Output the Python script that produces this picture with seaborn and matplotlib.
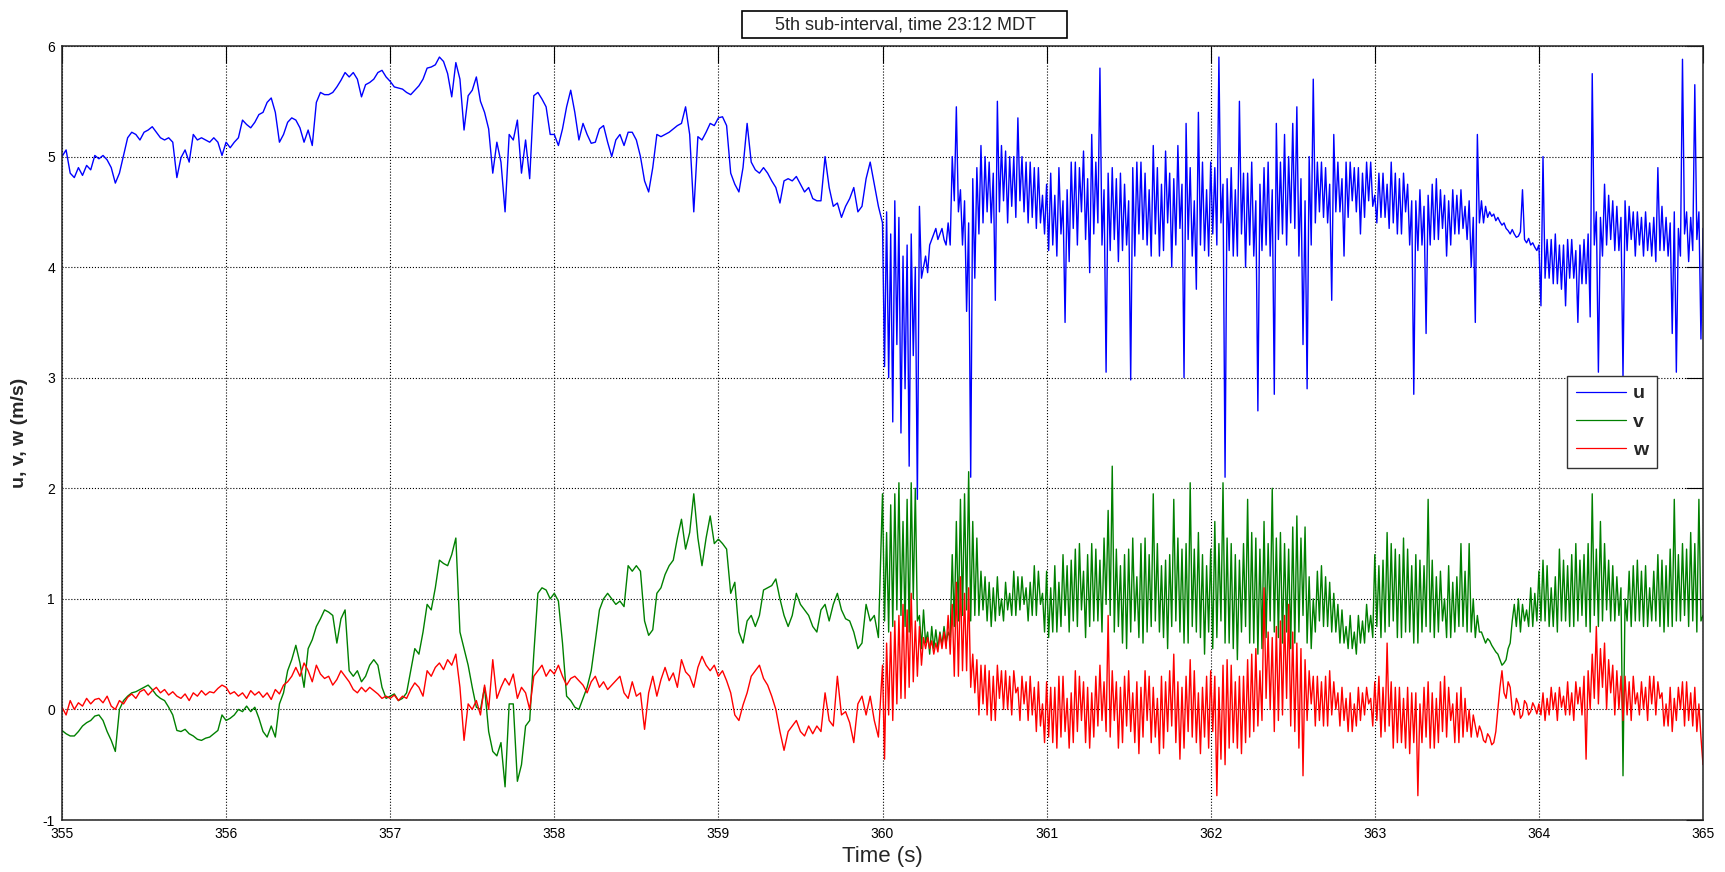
import numpy as np
import pandas as pd
import matplotlib
matplotlib.use("Agg")
import matplotlib.pyplot as plt
from matplotlib.patches import Rectangle
import seaborn as sns

# Sonic anemometer record, 5th sub-interval.
# 355-360 s stored every 25 ms; the gusty stretch 360-365 s every 12.5 ms.
STEADY_START, STEADY_STEP = 355.0, 0.025
GUSTY_START, GUSTY_STEP = 360.0, 0.0125

# streamwise component u (m/s)
u_steady = [
    5.00, 5.06, 4.85, 4.81, 4.90, 4.83, 4.92, 4.88, 5.01, 4.98,
    5.01, 4.97, 4.90, 4.76, 4.85, 5.01, 5.17, 5.22, 5.20, 5.15,
    5.22, 5.24, 5.27, 5.22, 5.17, 5.15, 5.17, 5.13, 4.81, 4.99,
    5.06, 4.95, 5.20, 5.15, 5.17, 5.15, 5.13, 5.17, 5.13, 5.01,
    5.13, 5.08, 5.13, 5.17, 5.33, 5.29, 5.26, 5.31, 5.38, 5.40,
    5.49, 5.53, 5.40, 5.13, 5.20, 5.31, 5.35, 5.33, 5.26, 5.13,
    5.24, 5.10, 5.49, 5.58, 5.56, 5.56, 5.58, 5.63, 5.69, 5.76,
    5.72, 5.76, 5.70, 5.54, 5.65, 5.67, 5.70, 5.76, 5.78, 5.72,
    5.68, 5.63, 5.62, 5.61, 5.58, 5.56, 5.60, 5.64, 5.70, 5.80,
    5.81, 5.83, 5.90, 5.86, 5.75, 5.54, 5.85, 5.70, 5.24, 5.55,
    5.60, 5.72, 5.50, 5.40, 5.25, 4.85, 5.13, 4.95, 4.50, 5.20,
    5.15, 5.33, 4.85, 5.15, 4.80, 5.55, 5.58, 5.52, 5.45, 5.20,
    5.20, 5.10, 5.25, 5.45, 5.60, 5.40, 5.15, 5.30, 5.20, 5.12,
    5.13, 5.25, 5.28, 5.13, 5.00, 5.15, 5.20, 5.10, 5.22, 5.22,
    5.15, 5.00, 4.78, 4.68, 4.90, 5.20, 5.18, 5.20, 5.22, 5.25,
    5.28, 5.30, 5.45, 5.20, 4.50, 5.18, 5.15, 5.22, 5.30, 5.28,
    5.35, 5.36, 5.28, 4.85, 4.75, 4.68, 4.90, 5.30, 4.95, 4.88,
    4.85, 4.90, 4.85, 4.78, 4.72, 4.58, 4.78, 4.80, 4.78, 4.82,
    4.75, 4.68, 4.72, 4.62, 4.60, 4.60, 5.00, 4.72, 4.55, 4.58,
    4.45, 4.55, 4.62, 4.72, 4.50, 4.55, 4.80, 4.95, 4.75, 4.55,
]
u_gusty = [
    4.40, 3.10, 4.50, 3.00, 4.30, 2.60, 4.60, 3.30, 4.45, 2.50,
    4.10, 2.90, 4.20, 2.20, 4.30, 3.20, 4.00, 1.90, 4.55, 3.90,
    4.00, 4.10, 3.95, 4.20, 4.25, 4.30, 4.35, 4.25, 4.30, 4.35,
    4.25, 4.20, 4.40, 4.20, 5.00, 4.60, 5.45, 4.50, 4.70, 4.20,
    4.60, 3.60, 4.40, 2.10, 4.80, 3.90, 4.90, 4.30, 5.10, 4.40,
    5.00, 4.50, 4.95, 4.40, 4.85, 3.70, 5.50, 4.50, 5.10, 4.60,
    5.05, 4.40, 5.00, 4.55, 5.00, 4.45, 5.35, 4.60, 5.00, 4.50,
    4.95, 4.40, 4.95, 4.45, 4.90, 4.35, 4.90, 4.40, 4.65, 4.30,
    4.75, 4.15, 4.85, 4.20, 4.65, 4.10, 4.90, 4.30, 4.60, 3.50,
    4.70, 4.05, 4.95, 4.35, 4.95, 4.20, 4.90, 4.50, 5.05, 4.25,
    4.80, 3.95, 5.20, 4.30, 4.95, 4.40, 5.80, 4.20, 4.70, 3.05,
    4.85, 4.15, 4.90, 4.25, 4.80, 4.05, 4.85, 4.15, 4.75, 4.20,
    4.60, 2.98, 4.90, 4.10, 4.95, 4.30, 4.95, 4.25, 4.85, 4.20,
    4.70, 4.10, 5.10, 4.30, 4.90, 4.10, 4.75, 4.15, 5.05, 4.40,
    4.85, 4.00, 4.80, 4.20, 5.10, 4.35, 4.75, 3.00, 5.30, 4.25,
    4.90, 4.10, 4.60, 3.80, 5.40, 4.20, 4.95, 4.15, 4.70, 4.10,
    4.95, 4.30, 4.90, 4.20, 5.90, 4.40, 4.75, 2.10, 4.80, 4.15,
    4.90, 4.10, 4.70, 4.10, 5.50, 4.30, 4.85, 4.00, 4.85, 4.20,
    4.95, 4.10, 4.60, 2.70, 4.75, 4.15, 4.90, 4.20, 4.95, 4.10,
    4.70, 2.85, 5.30, 4.25, 4.95, 4.30, 5.20, 4.20, 5.00, 4.40,
    5.30, 4.35, 5.45, 4.10, 4.80, 3.30, 4.60, 2.90, 5.00, 4.20,
    5.70, 4.40, 4.95, 4.50, 4.95, 4.45, 4.90, 4.40, 4.75, 3.70,
    5.20, 4.50, 4.95, 4.50, 4.80, 4.10, 4.95, 4.45, 4.95, 4.60,
    4.90, 4.50, 4.90, 4.30, 4.85, 4.45, 4.95, 4.60, 4.95, 4.55,
    4.65, 4.40, 4.85, 4.45, 4.85, 4.45, 4.75, 4.35, 4.95, 4.40,
    4.85, 4.30, 4.80, 4.30, 4.85, 4.50, 4.75, 4.20, 4.60, 2.85,
    4.60, 4.15, 4.70, 4.20, 4.55, 3.40, 4.65, 4.20, 4.75, 4.25,
    4.80, 4.25, 4.70, 4.35, 4.65, 4.10, 4.60, 4.20, 4.70, 4.30,
    4.65, 4.30, 4.70, 4.35, 4.55, 4.25, 4.60, 4.00, 4.45, 3.50,
    5.20, 4.40, 4.60, 4.40, 4.55, 4.45, 4.50, 4.46, 4.48, 4.42,
    4.45, 4.41, 4.38, 4.40, 4.35, 4.33, 4.30, 4.34, 4.30, 4.27,
    4.28, 4.32, 4.70, 4.25, 4.22, 4.26, 4.20, 4.22, 4.18, 4.15,
    4.20, 3.65, 5.00, 3.90, 4.25, 3.90, 4.25, 3.85, 4.30, 3.85,
    4.20, 3.80, 4.20, 3.65, 4.25, 3.90, 4.25, 3.90, 4.15, 3.50,
    4.20, 3.85, 4.25, 3.85, 4.30, 3.55, 5.75, 4.20, 4.50, 3.05,
    4.45, 4.10, 4.75, 4.20, 4.65, 4.25, 4.60, 4.15, 4.55, 4.15,
    4.45, 3.00, 4.60, 4.15, 4.55, 4.25, 4.50, 4.10, 4.50, 4.20,
    4.45, 4.10, 4.50, 4.15, 4.40, 4.10, 4.45, 4.05, 4.90, 4.15,
    4.55, 4.15, 4.45, 4.10, 4.40, 3.40, 4.50, 3.05, 4.35, 4.10,
    5.88, 4.30, 4.50, 4.05, 4.45, 4.15, 5.65, 4.25, 4.50, 3.35,
    4.35,
]

# lateral component v (m/s)
v_steady = [
    -0.19, -0.22, -0.24, -0.24, -0.20, -0.15, -0.12, -0.10, -0.06, -0.05,
    -0.10, -0.20, -0.28, -0.38, 0.00, 0.08, 0.12, 0.15, 0.16, 0.18,
    0.20, 0.22, 0.18, 0.13, 0.10, 0.08, 0.02, -0.05, -0.19, -0.20,
    -0.18, -0.22, -0.24, -0.27, -0.28, -0.26, -0.25, -0.22, -0.19, -0.05,
    -0.10, -0.08, -0.05, 0.00, -0.02, 0.03, -0.02, 0.02, -0.08, -0.20,
    -0.25, -0.15, -0.25, 0.05, 0.15, 0.35, 0.45, 0.58, 0.42, 0.20,
    0.55, 0.63, 0.75, 0.82, 0.90, 0.88, 0.85, 0.60, 0.82, 0.90,
    0.35, 0.30, 0.35, 0.25, 0.30, 0.40, 0.45, 0.40, 0.20, 0.10,
    0.12, 0.14, 0.08, 0.10, 0.15, 0.35, 0.55, 0.50, 0.70, 0.95,
    0.90, 1.10, 1.35, 1.32, 1.30, 1.40, 1.55, 0.70, 0.55, 0.40,
    0.20, 0.02, 0.00, 0.20, -0.20, -0.38, -0.42, -0.30, -0.70, 0.05,
    0.05, -0.65, -0.50, -0.15, -0.10, 0.50, 1.05, 1.10, 1.08, 1.00,
    1.05, 0.98, 0.60, 0.12, 0.08, 0.02, 0.00, 0.10, 0.20, 0.35,
    0.62, 0.90, 1.00, 1.05, 1.00, 0.95, 0.98, 0.93, 1.30, 1.25,
    1.30, 1.25, 0.80, 0.67, 0.72, 1.05, 1.10, 1.22, 1.30, 1.35,
    1.55, 1.72, 1.45, 1.60, 1.95, 1.55, 1.30, 1.55, 1.75, 1.50,
    1.54, 1.50, 1.45, 1.05, 1.15, 0.70, 0.60, 0.80, 0.85, 0.75,
    0.85, 1.08, 1.10, 1.12, 1.18, 1.00, 0.85, 0.75, 0.85, 1.05,
    0.95, 0.90, 0.85, 0.75, 0.70, 0.90, 0.95, 0.80, 0.95, 1.05,
    0.90, 0.82, 0.80, 0.70, 0.55, 0.60, 0.95, 0.80, 0.85, 0.65,
]
v_gusty = [
    1.95, 0.80, 1.60, 0.70, 1.85, 0.75, 1.95, 0.90, 2.05, 0.85,
    1.70, 0.75, 1.90, 0.70, 2.05, 1.00, 2.00, 0.80, 0.85, 0.55,
    0.90, 0.60, 0.70, 0.50, 0.75, 0.55, 0.72, 0.55, 0.70, 0.58,
    0.75, 0.60, 0.70, 0.65, 1.40, 0.75, 1.70, 0.80, 1.90, 0.85,
    1.95, 0.90, 2.15, 0.80, 1.70, 0.85, 1.55, 0.85, 1.25, 0.90,
    1.20, 0.80, 1.15, 0.75, 1.10, 0.80, 1.20, 0.85, 1.00, 0.80,
    1.15, 0.90, 1.05, 0.85, 1.25, 0.85, 1.20, 0.90, 1.20, 0.95,
    1.10, 0.80, 1.15, 0.85, 1.30, 0.85, 1.25, 0.95, 1.05, 0.70,
    1.25, 0.65, 1.10, 0.70, 1.30, 0.70, 1.15, 0.75, 1.40, 0.85,
    1.30, 0.70, 1.35, 0.80, 1.45, 0.75, 1.50, 0.90, 1.25, 0.65,
    1.40, 0.75, 1.50, 0.80, 1.45, 0.80, 1.35, 0.70, 1.55, 0.95,
    1.80, 0.85, 2.20, 0.70, 1.45, 0.75, 1.30, 0.60, 1.40, 0.55,
    1.45, 0.70, 1.55, 0.80, 1.20, 0.65, 1.50, 0.60, 1.55, 0.70,
    1.40, 0.75, 1.95, 0.80, 1.50, 0.70, 1.30, 0.65, 1.35, 0.55,
    1.40, 0.75, 1.90, 0.80, 1.55, 0.70, 1.45, 0.60, 1.50, 0.60,
    2.05, 0.75, 1.45, 0.70, 1.60, 0.65, 1.40, 0.50, 1.30, 0.70,
    1.45, 0.55, 1.70, 0.65, 1.50, 0.80, 2.05, 0.60, 1.55, 0.60,
    1.50, 0.55, 1.40, 0.45, 1.35, 0.70, 1.50, 0.75, 1.90, 0.60,
    1.60, 0.60, 1.55, 0.50, 1.45, 0.55, 1.70, 0.65, 1.50, 0.80,
    2.00, 0.70, 1.55, 0.65, 1.60, 0.60, 1.50, 0.70, 1.45, 0.55,
    1.65, 0.60, 1.75, 0.70, 1.55, 0.85, 1.65, 0.60, 1.20, 0.55,
    1.00, 0.70, 1.25, 0.80, 1.30, 0.75, 1.20, 0.75, 1.15, 0.70,
    1.05, 0.70, 0.95, 0.60, 0.90, 0.60, 0.75, 0.55, 0.85, 0.55,
    0.70, 0.50, 0.85, 0.60, 0.80, 0.60, 0.95, 0.70, 0.85, 0.65,
    1.40, 0.75, 1.30, 0.65, 1.35, 0.70, 1.60, 0.75, 1.50, 0.80,
    1.45, 0.65, 1.40, 0.65, 1.55, 0.70, 1.45, 0.70, 1.30, 0.60,
    1.40, 0.60, 1.35, 0.70, 1.30, 0.75, 1.90, 0.70, 1.35, 0.65,
    1.20, 0.70, 1.25, 0.80, 1.00, 0.65, 1.30, 0.65, 1.15, 0.70,
    1.20, 0.75, 1.50, 0.75, 1.25, 0.70, 1.50, 0.70, 1.00, 0.65,
    0.85, 0.70, 0.70, 0.65, 0.60, 0.64, 0.62, 0.58, 0.55, 0.52,
    0.50, 0.45, 0.40, 0.42, 0.45, 0.55, 0.60, 0.80, 0.95, 0.75,
    1.00, 0.70, 0.95, 0.80, 0.90, 0.75, 1.10, 0.75, 1.05, 0.80,
    1.25, 0.80, 1.35, 0.80, 1.30, 0.75, 1.10, 0.75, 1.20, 0.70,
    1.45, 0.80, 1.35, 0.80, 1.30, 0.75, 1.40, 0.75, 1.50, 0.80,
    1.35, 0.85, 1.40, 0.75, 1.50, 0.70, 1.95, 0.85, 1.45, 0.75,
    1.70, 0.80, 1.50, 0.90, 1.35, 0.80, 1.30, 0.80, 1.20, 0.85,
    1.10, -0.60, 1.00, 0.80, 1.25, 0.75, 1.30, 0.80, 1.35, 0.80,
    1.25, 0.75, 1.30, 0.75, 1.10, 0.80, 1.25, 0.80, 1.40, 0.75,
    1.35, 0.70, 1.30, 0.75, 1.45, 0.75, 1.90, 0.80, 1.40, 0.80,
    1.50, 0.85, 1.45, 0.75, 1.60, 0.80, 1.50, 0.70, 1.90, 0.80,
    0.85,
]

# vertical component w (m/s)
w_steady = [
    0.02, -0.05, 0.08, 0.00, 0.06, 0.03, 0.10, 0.05, 0.09, 0.10,
    0.06, 0.12, 0.03, 0.00, 0.08, 0.05, 0.11, 0.14, 0.10, 0.16,
    0.18, 0.13, 0.17, 0.20, 0.15, 0.18, 0.13, 0.16, 0.12, 0.10,
    0.14, 0.08, 0.15, 0.12, 0.17, 0.13, 0.16, 0.15, 0.19, 0.22,
    0.20, 0.14, 0.16, 0.12, 0.15, 0.10, 0.17, 0.13, 0.16, 0.11,
    0.15, 0.09, 0.18, 0.14, 0.22, 0.25, 0.30, 0.38, 0.30, 0.42,
    0.35, 0.25, 0.40, 0.32, 0.28, 0.30, 0.22, 0.27, 0.35, 0.30,
    0.25, 0.18, 0.15, 0.20, 0.16, 0.20, 0.17, 0.14, 0.10, 0.12,
    0.10, 0.13, 0.08, 0.12, 0.10, 0.18, 0.24, 0.20, 0.12, 0.35,
    0.30, 0.38, 0.42, 0.36, 0.45, 0.40, 0.50, 0.20, -0.28, 0.05,
    0.00, 0.08, -0.05, 0.22, 0.00, 0.45, 0.10, 0.20, 0.28, 0.22,
    0.32, 0.10, 0.20, 0.15, 0.00, 0.30, 0.35, 0.40, 0.30, 0.36,
    0.32, 0.40, 0.30, 0.22, 0.28, 0.30, 0.26, 0.22, 0.15, 0.25,
    0.30, 0.20, 0.25, 0.18, 0.22, 0.26, 0.30, 0.15, 0.10, 0.25,
    0.12, 0.15, -0.18, 0.15, 0.30, 0.12, 0.27, 0.38, 0.26, 0.33,
    0.20, 0.45, 0.34, 0.30, 0.20, 0.38, 0.48, 0.40, 0.35, 0.40,
    0.30, 0.35, 0.26, 0.15, -0.05, -0.10, 0.04, 0.15, 0.30, 0.35,
    0.40, 0.28, 0.22, 0.12, 0.00, -0.20, -0.37, -0.20, -0.15, -0.10,
    -0.20, -0.24, -0.15, -0.22, -0.15, -0.20, 0.15, -0.10, -0.15, 0.30,
    -0.05, -0.02, -0.12, -0.30, 0.05, 0.12, -0.05, 0.12, -0.10, -0.25,
]
w_gusty = [
    0.40, -0.45, 0.60, -0.05, 0.70, -0.10, 0.80, 0.05, 0.85, 0.10,
    0.95, 0.10, 0.90, 0.20, 1.05, 0.25, 0.80, 0.30, 0.75, 0.40,
    0.65, 0.55, 0.65, 0.55, 0.62, 0.50, 0.60, 0.52, 0.68, 0.55,
    0.70, 0.55, 0.85, 0.50, 0.95, 0.30, 1.15, 0.30, 1.20, 0.35,
    1.05, 0.35, 1.10, 0.20, 0.50, 0.15, 0.45, -0.05, 0.40, 0.05,
    0.40, -0.05, 0.35, -0.10, 0.30, -0.10, 0.40, 0.10, 0.35, 0.00,
    0.35, 0.00, 0.30, -0.05, 0.35, 0.15, 0.20, -0.10, 0.30, 0.05,
    0.25, -0.10, 0.30, -0.05, 0.20, -0.20, 0.25, -0.15, 0.05, -0.30,
    0.25, -0.25, 0.20, -0.30, 0.20, -0.35, 0.30, -0.25, 0.30, -0.20,
    0.10, -0.35, 0.15, -0.30, 0.35, -0.20, 0.30, -0.10, 0.25, -0.30,
    0.20, -0.35, 0.15, -0.25, 0.30, -0.15, 0.40, -0.10, 0.25, -0.20,
    0.85, -0.25, 0.35, -0.10, 0.25, -0.35, 0.20, -0.30, 0.30, -0.15,
    0.35, -0.20, 0.15, -0.30, 0.25, -0.40, 0.20, -0.25, 0.35, -0.10,
    0.30, -0.30, 0.20, -0.25, 0.10, -0.40, 0.30, -0.35, 0.25, -0.20,
    0.35, -0.15, 0.50, -0.30, 0.25, -0.45, 0.20, -0.35, 0.30, -0.20,
    0.45, -0.25, 0.35, -0.30, 0.15, -0.40, 0.20, -0.25, 0.30, -0.35,
    0.35, -0.20, 0.30, -0.78, 0.20, -0.45, 0.40, -0.50, 0.45, -0.35,
    0.40, -0.30, 0.25, -0.35, 0.30, -0.40, 0.30, -0.30, 0.45, -0.25,
    0.50, -0.20, 0.55, -0.15, 0.35, -0.10, 1.10, 0.10, 0.70, 0.00,
    0.65, -0.20, 0.75, -0.10, 0.80, -0.05, 0.85, 0.10, 0.95, -0.15,
    0.70, -0.20, 0.60, -0.35, 0.55, -0.60, 0.45, -0.10, 0.35, 0.05,
    0.30, -0.15, 0.30, -0.10, 0.25, -0.15, 0.30, -0.15, 0.35, -0.05,
    0.25, 0.00, 0.15, -0.15, 0.20, -0.10, 0.10, -0.20, 0.15, -0.20,
    0.05, -0.15, 0.20, -0.10, 0.15, -0.05, 0.20, 0.05, 0.10, -0.15,
    0.25, -0.10, 0.30, -0.25, 0.20, -0.20, 0.60, -0.15, 0.25, -0.35,
    0.20, -0.30, 0.20, -0.30, 0.10, -0.35, 0.20, -0.40, 0.15, -0.30,
    0.15, -0.78, 0.05, -0.30, 0.20, -0.25, 0.25, -0.35, 0.15, -0.35,
    0.10, -0.30, 0.25, -0.20, 0.30, -0.25, 0.20, -0.10, 0.05, -0.30,
    0.15, -0.30, 0.20, -0.25, 0.10, -0.20, 0.00, -0.25, -0.05, -0.15,
    -0.25, -0.15, -0.20, -0.28, -0.30, -0.22, -0.25, -0.32, -0.30, -0.20,
    0.00, 0.20, 0.35, 0.15, 0.10, 0.25, 0.20, 0.00, -0.05, 0.10,
    0.05, -0.08, -0.05, 0.08, 0.05, -0.05, -0.02, 0.06, 0.02, -0.04,
    0.05, -0.05, 0.15, -0.10, 0.10, -0.05, 0.20, 0.00, 0.15, -0.10,
    0.20, 0.02, 0.12, -0.05, 0.25, -0.05, 0.15, -0.10, 0.25, 0.05,
    0.20, -0.05, 0.30, -0.45, 0.35, 0.00, 0.50, 0.10, 0.75, 0.05,
    0.55, 0.20, 0.60, 0.00, 0.45, 0.15, 0.40, -0.05, 0.35, 0.00,
    0.30, -0.10, 0.30, -0.05, 0.25, -0.10, 0.30, 0.05, 0.15, -0.05,
    0.25, 0.00, 0.20, -0.10, 0.30, 0.05, 0.30, -0.05, 0.25, 0.10,
    0.15, -0.15, 0.05, -0.15, 0.20, -0.20, 0.10, -0.10, 0.20, 0.00,
    0.25, -0.15, 0.25, -0.10, 0.15, -0.15, 0.20, -0.20, 0.05, -0.25,
    -0.50,
]

components = ["u", "v", "w"]
line_colors = {"u": "#0000ff", "v": "#008000", "w": "#ff0000"}
x_ticks = list(range(355, 366))
y_ticks = list(range(-1, 7))
title_text = "5th sub-interval, time 23:12 MDT"
x_label = "Time (s)"
y_label = "u, v, w (m/s)"


def sample_times(steady, gusty):
    t_steady = STEADY_START + STEADY_STEP * np.arange(len(steady))
    t_gusty = GUSTY_START + GUSTY_STEP * np.arange(len(gusty))
    return np.concatenate([t_steady, t_gusty])


series = {
    "u": (u_steady, u_gusty),
    "v": (v_steady, v_gusty),
    "w": (w_steady, w_gusty),
}
frames = []
for name in components:
    steady, gusty = series[name]
    frames.append(pd.DataFrame({
        "time": sample_times(steady, gusty),
        "speed": np.array(steady + gusty, dtype=float),
        "component": name,
    }))
df = pd.concat(frames, ignore_index=True)

sns.set_style("white")
plt.rcParams["font.family"] = ["Liberation Sans", "DejaVu Sans"]

W, H = 1725, 872
fig = plt.figure(figsize=(W / 100, H / 100), dpi=100, facecolor="white")
ax = fig.add_axes([62 / W, 52 / H, 1641 / W, 774 / H])

sns.lineplot(data=df, x="time", y="speed", hue="component",
             palette=line_colors, estimator=None, sort=False,
             linewidth=1.0, ax=ax)

ax.set_xlim(355, 365)
ax.set_ylim(-1, 6)
ax.set_xticks(x_ticks)
ax.set_yticks(y_ticks)
ax.set_xticklabels([str(t) for t in x_ticks])
ax.set_yticklabels([str(t) for t in y_ticks])
ax.grid(True, linestyle=":", color="black", linewidth=0.8)
ax.set_axisbelow(True)
ax.tick_params(direction="in", length=12, width=0.8, top=True, right=True,
               labelsize=10, colors="black", pad=5)
for sp in ax.spines.values():
    sp.set_color("#222222")
    sp.set_linewidth(1.1)

ax.set_xlabel(x_label, fontsize=16)
ax.xaxis.set_label_coords(0.5, -0.034)
ax.set_ylabel(y_label, fontsize=14, fontweight="bold")
ax.yaxis.set_label_coords(-0.021, 0.5)

handles, labels = ax.get_legend_handles_labels()
leg = ax.legend(handles, labels, loc="upper right",
                bbox_to_anchor=(0.972, 0.5736), frameon=True, fancybox=False,
                edgecolor="#333333", framealpha=1,
                prop={"weight": "bold", "size": 14},
                handlelength=2.6, handletextpad=0.35, labelspacing=0.55,
                borderpad=0.45, borderaxespad=0)
leg.get_frame().set_linewidth(1.0)
for line in leg.get_lines():
    line.set_linewidth(0.9)

# boxed heading above the axes
fig.patches.append(Rectangle((742 / W, 1 - 38 / H), (1067 - 742) / W, 27 / H,
                             transform=fig.transFigure, fill=False,
                             edgecolor="black", linewidth=1.2))
fig.text(905 / W, 1 - 24.5 / H, title_text, ha="center", va="center",
         fontsize=13)

fig.savefig("out.png", dpi=100, facecolor="white")
